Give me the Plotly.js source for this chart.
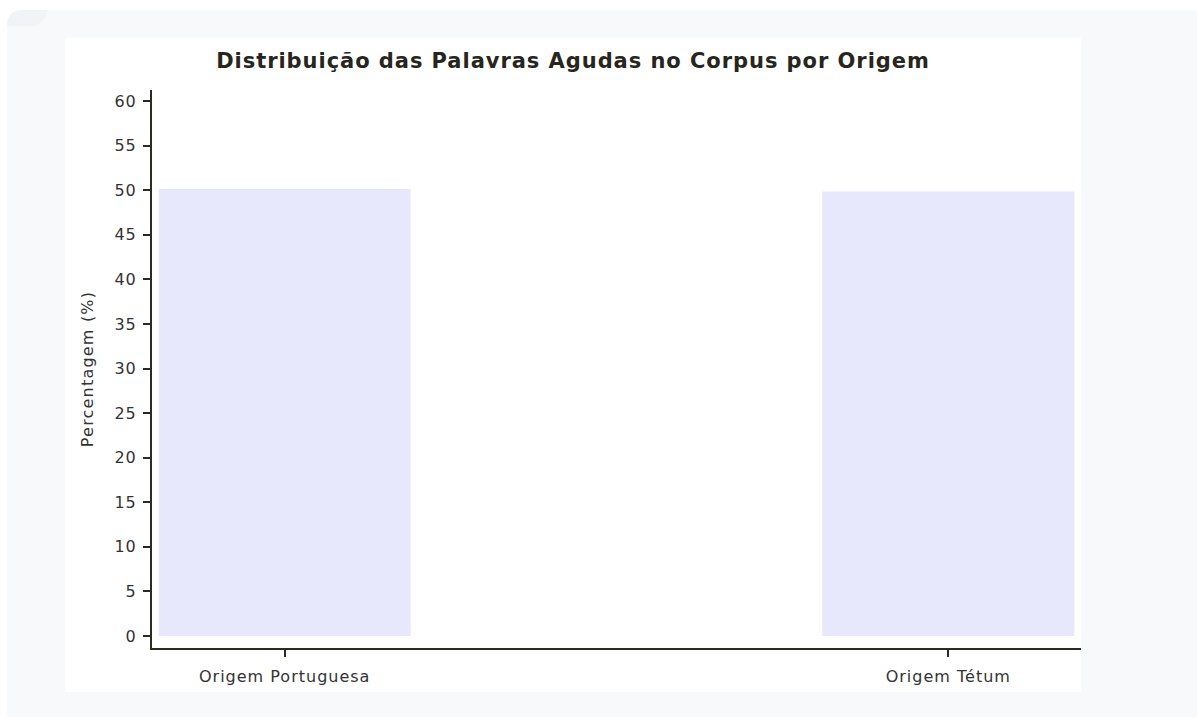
<!DOCTYPE html>
<html>
<head>
<meta charset="utf-8">
<script src="https://cdn.plot.ly/plotly-3.0.1.min.js"></script>
<style>
  html, body { margin: 0; padding: 0; background: #ffffff; width: 1197px; height: 717px; overflow: hidden; }
  #bg { position: absolute; left: 7px; top: 10px; width: 1190px; height: 707px; background: #f8f9fb; border-top-left-radius: 14px; }
  #blob { position: absolute; left: 7px; top: 10px; width: 40px; height: 16px; background: #f2f3f6; border-top-left-radius: 14px; border-bottom-right-radius: 16px; }
  #chart { position: absolute; left: 65px; top: 38px; width: 1016px; height: 654px; }
  #chart .xtick text, #chart .ytick text { letter-spacing: 1px; }
  #chart .ytitle { letter-spacing: 1.2px; }
  #chart .gtitle { letter-spacing: 0.95px; }
</style>
</head>
<body>
<div id="bg"></div>
<div id="blob"></div>
<div id="chart"></div>
<script>
const categories = ["Origem Portuguesa", "Origem Tétum"];
const percentages = [50.13, 49.87];
const yTickVals = [0, 5, 10, 15, 20, 25, 30, 35, 40, 45, 50, 55, 60];

const axisColor = "#2b2b22";
const fontFamily = "'DejaVu Sans', Verdana, sans-serif";

const trace = {
  type: "bar",
  x: categories,
  y: percentages,
  width: 0.38,
  marker: { color: "#e8e8fc" },
  hoverinfo: "x+y"
};

const layout = {
  width: 1016,
  height: 654,
  paper_bgcolor: "#ffffff",
  plot_bgcolor: "#ffffff",
  margin: { l: 87, r: 0, t: 52, b: 44 },
  font: { family: fontFamily, color: "#333333" },
  title: {
    text: "<b>Distribuição das Palavras Agudas no Corpus por Origem</b>",
    font: { family: fontFamily, size: 21, color: "#26261c" },
    x: 0.5, xanchor: "center", y: 0.965, yanchor: "middle"
  },
  xaxis: {
    type: "category",
    range: [-0.2, 1.2],
    showline: true, linecolor: axisColor, linewidth: 2,
    ticks: "outside", ticklen: 7, tickwidth: 2, tickcolor: axisColor,
    ticklabelstandoff: 6,
    showgrid: false, zeroline: false,
    tickfont: { family: fontFamily, size: 16, color: "#333333" }
  },
  yaxis: {
    range: [-1.35, 61.25],
    tickvals: yTickVals,
    showline: true, linecolor: axisColor, linewidth: 2,
    ticks: "outside", ticklen: 7, tickwidth: 2, tickcolor: axisColor,
    ticklabelstandoff: 3,
    showgrid: false, zeroline: false,
    tickfont: { family: fontFamily, size: 16, color: "#333333" },
    title: { text: "Percentagem (%)", font: { family: fontFamily, size: 16, color: "#333333" }, standoff: 19 }
  },
  showlegend: false
};

Plotly.newPlot("chart", [trace], layout, { displayModeBar: false, responsive: false });
</script>
</body>
</html>
